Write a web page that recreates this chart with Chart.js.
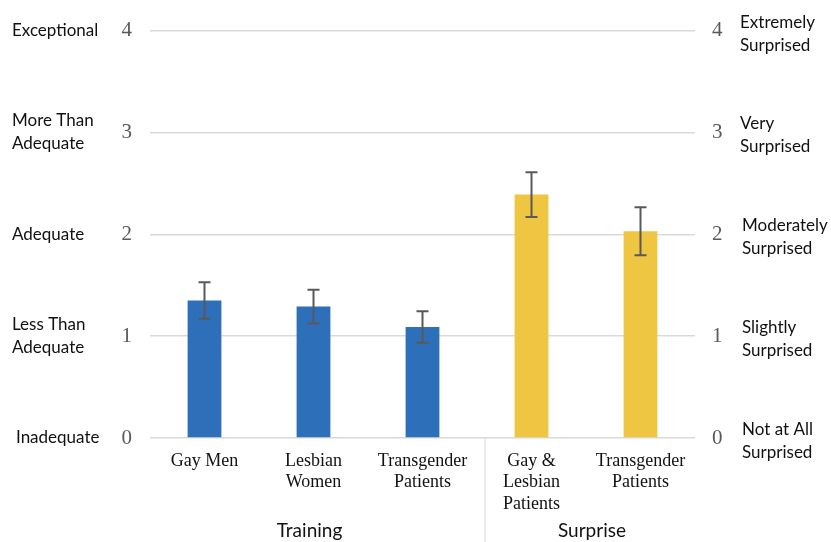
<!DOCTYPE html>
<html>
<head>
<meta charset="utf-8">
<script src="https://cdn.jsdelivr.net/npm/chart.js@4"></script>
<style>
  html, body { margin: 0; padding: 0; background: #fff; }
  canvas { display: block; }
</style>
</head>
<body>
<canvas id="grafico" width="831" height="542"></canvas>
<script>
const categorias = [['Gay Men'], ['Lesbian', 'Women'], ['Transgender', 'Patients'], ['Gay &', 'Lesbian', 'Patients'], ['Transgender', 'Patients']];
const medias = [1.35, 1.29, 1.09, 2.39, 2.03];
const errores = [0.18, 0.165, 0.155, 0.22, 0.235];
const grupos = ['Training', 'Training', 'Training', 'Surprise', 'Surprise'];
const nombresGrupos = ['Training', 'Surprise'];
const etiquetasIzq = [['Inadequate'], ['Less Than', 'Adequate'], ['Adequate'], ['More Than', 'Adequate'], ['Exceptional']];
const etiquetasDer = [['Not at All', 'Surprised'], ['Slightly', 'Surprised'], ['Moderately', 'Surprised'], ['Very', 'Surprised'], ['Extremely', 'Surprised']];

const colorGrupo = { 'Training': '#2E6FBA', 'Surprise': '#EFC642' };
const sans = "Lato, 'Open Sans', sans-serif";
const serif = "'Liberation Serif', 'DejaVu Serif', serif";

// barras de error, textos descriptivos y etiquetas de grupo
const extras = {
    id: 'extras',
    afterDatasetsDraw(chart) {
        const ctx = chart.ctx;
        const y = chart.scales.y;
        const x = chart.scales.x;
        const meta = chart.getDatasetMeta(0);

        ctx.save();
        ctx.strokeStyle = '#595959';
        ctx.lineWidth = 2;
        meta.data.forEach((bar, i) => {
            const arriba = y.getPixelForValue(medias[i] + errores[i]);
            const abajo = y.getPixelForValue(medias[i] - errores[i]);
            ctx.beginPath();
            ctx.moveTo(bar.x, arriba);
            ctx.lineTo(bar.x, abajo);
            ctx.moveTo(bar.x - 6, arriba);
            ctx.lineTo(bar.x + 6, arriba);
            ctx.moveTo(bar.x - 6, abajo);
            ctx.lineTo(bar.x + 6, abajo);
            ctx.stroke();
        });

        ctx.fillStyle = '#111';
        ctx.font = '17px ' + sans;
        ctx.textBaseline = 'middle';
        ctx.textAlign = 'left';
        etiquetasIzq.forEach((lineas, v) => {
            const py = y.getPixelForValue(v);
            const px = v === 0 ? 16 : 12;
            lineas.forEach((t, k) => {
                ctx.fillText(t, px, py + (k - (lineas.length - 1) / 2) * 23);
            });
        });
        etiquetasDer.forEach((lineas, v) => {
            const py = y.getPixelForValue(v);
            const px = v <= 2 ? 742 : 740;
            lineas.forEach((t, k) => {
                ctx.fillText(t, px, py + 3 + (k - (lineas.length - 1) / 2) * 23);
            });
        });

        // separador entre grupos
        const corte = grupos.indexOf('Surprise');
        const sx = (x.getPixelForValue(corte - 1) + x.getPixelForValue(corte)) / 2 + 8;
        ctx.strokeStyle = '#d9d9d9';
        ctx.lineWidth = 1;
        ctx.beginPath();
        ctx.moveTo(sx, chart.chartArea.bottom);
        ctx.lineTo(sx, chart.height);
        ctx.stroke();

        ctx.font = '19px ' + sans;
        ctx.textAlign = 'center';
        ctx.fillStyle = '#111';
        nombresGrupos.forEach(g => {
            const idx = grupos.map((n, i) => n === g ? i : -1).filter(i => i >= 0);
            const cx = (x.getPixelForValue(idx[0]) + x.getPixelForValue(idx[idx.length - 1])) / 2;
            ctx.fillText(g, cx + (g === 'Surprise' ? 6 : -4), 531);
        });
        ctx.restore();
    }
};

new Chart(document.getElementById('grafico'), {
    type: 'bar',
    data: {
        labels: categorias,
        datasets: [{
            data: medias,
            backgroundColor: grupos.map(g => colorGrupo[g]),
            barPercentage: 0.31,
            categoryPercentage: 1
        }]
    },
    options: {
        responsive: false,
        animation: false,
        devicePixelRatio: 1,
        layout: { padding: { top: 29, bottom: 0, left: 0, right: 0 } },
        plugins: { legend: { display: false }, tooltip: { enabled: false } },
        scales: {
            x: {
                grid: { display: false, drawTicks: false },
                border: { display: false },
                ticks: {
                    color: '#111',
                    font: { family: serif, size: 18 },
                    padding: 12,
                    maxRotation: 0,
                    autoSkip: false
                },
                afterFit: s => { s.height = 104; }
            },
            y: {
                position: 'left',
                min: 0, max: 4,
                grid: { color: '#d9d9d9', lineWidth: 1.5, drawTicks: false },
                border: { display: false },
                ticks: {
                    stepSize: 1,
                    color: '#595959',
                    font: { family: serif, size: 21 },
                    padding: 18
                },
                afterFit: s => { s.width = 150; }
            },
            y2: {
                position: 'right',
                min: 0, max: 4,
                grid: { display: false, drawTicks: false },
                border: { display: false },
                ticks: {
                    stepSize: 1,
                    color: '#595959',
                    font: { family: serif, size: 21 },
                    padding: 17
                },
                afterFit: s => { s.width = 136; }
            }
        }
    },
    plugins: [extras]
});
</script>
</body>
</html>
